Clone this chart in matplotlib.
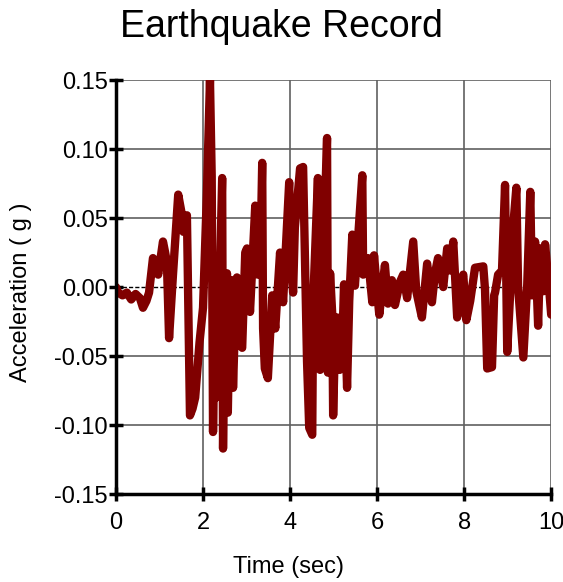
import matplotlib.pyplot as plt

plt.rcParams['font.family'] = ['Liberation Sans', 'DejaVu Sans']
plt.rcParams['axes.unicode_minus'] = False

# time (sec) and acceleration (g)
time = [0.00, 0.05, 0.15, 0.25, 0.35, 0.45, 0.55, 0.62, 0.70, 0.76,
        0.85, 0.92, 0.97, 1.08, 1.13, 1.17, 1.22, 1.31, 1.43, 1.50,
        1.55, 1.63, 1.70, 1.76, 1.82, 1.92, 2.00, 2.09, 2.16, 2.20,
        2.23, 2.27, 2.30, 2.32, 2.36, 2.44, 2.46, 2.50, 2.53, 2.55,
        2.57, 2.61, 2.63, 2.66, 2.69, 2.74, 2.78, 2.85, 2.90, 2.97,
        3.01, 3.08, 3.20, 3.26, 3.33, 3.36, 3.38, 3.42, 3.49, 3.59,
        3.66, 3.77, 3.84, 3.98, 4.02, 4.07, 4.11, 4.23, 4.30, 4.39,
        4.44, 4.51, 4.53, 4.64, 4.69, 4.74, 4.85, 4.87, 4.92, 4.97,
        4.99, 5.04, 5.08, 5.14, 5.22, 5.24, 5.31, 5.36, 5.43, 5.49,
        5.66, 5.68, 5.79, 5.89, 5.93, 6.00, 6.05, 6.18, 6.25, 6.34,
        6.41, 6.53, 6.60, 6.69, 6.83, 6.90, 7.03, 7.15, 7.26, 7.33,
        7.40, 7.52, 7.61, 7.68, 7.75, 7.84, 7.93, 7.98, 8.05, 8.14,
        8.25, 8.44, 8.48, 8.53, 8.64, 8.69, 8.71, 8.78, 8.87, 8.94,
        8.99, 9.06, 9.13, 9.20, 9.24, 9.36, 9.45, 9.52, 9.56, 9.63,
        9.70, 9.75, 9.82, 9.86, 9.95, 10.00]
accel = [0.000, -0.004, -0.006, -0.004, -0.009, -0.005, -0.008, -0.015, -0.010, -0.004,
         0.021, 0.018, 0.009, 0.033, 0.025, 0.018, -0.037, 0.009, 0.067, 0.055,
         0.040, 0.052, -0.093, -0.088, -0.080, -0.040, -0.015, 0.069, 0.150, 0.080,
         -0.105, -0.020, -0.080, 0.010, -0.030, 0.079, -0.117, -0.010, -0.085, 0.010,
         -0.091, -0.020, -0.050, 0.005, -0.073, -0.020, 0.007, -0.042, -0.044, 0.025,
         0.028, -0.018, 0.059, 0.009, 0.040, 0.090, -0.030, -0.059, -0.066, -0.006,
         -0.030, 0.025, -0.011, 0.076, 0.020, -0.004, 0.043, 0.086, 0.087, -0.054,
         -0.102, -0.107, -0.012, 0.079, -0.060, -0.004, 0.108, -0.062, 0.010, -0.020,
         -0.093, -0.030, -0.022, -0.060, -0.020, 0.002, -0.073, -0.010, 0.038, 0.001,
         0.081, 0.009, 0.021, -0.011, 0.023, -0.003, -0.020, 0.016, -0.012, 0.005,
         -0.013, 0.004, 0.009, -0.008, 0.033, -0.003, -0.022, 0.017, -0.011, 0.010,
         0.021, 0.000, 0.028, 0.012, 0.033, -0.022, 0.004, 0.009, -0.024, -0.010,
         0.014, 0.015, -0.002, -0.059, -0.058, -0.006, -0.004, 0.009, 0.012, 0.074,
         -0.047, -0.003, 0.045, 0.072, 0.000, -0.051, 0.002, 0.069, -0.006, 0.033,
         -0.028, 0.028, -0.003, 0.031, 0.000, -0.020]

xticks = [0, 2, 4, 6, 8, 10]
yticks = [-0.15, -0.10, -0.05, 0.00, 0.05, 0.10, 0.15]

fig = plt.figure(figsize=(5.63, 5.82), dpi=100)
ax = fig.add_axes([0.206, 0.151, 0.773, 0.7115])

for xv in xticks[1:]:
    ax.axvline(xv, color='#606060', lw=1.2, zorder=1)
for yv in yticks[1:]:
    if yv == 0:
        ax.axhline(yv, color='black', lw=1.0, ls=(0, (3, 1.5)), zorder=1)
    else:
        ax.axhline(yv, color='#606060', lw=1.2, zorder=1)

ax.plot(time, accel, color='#800000', lw=6, solid_joinstyle='round',
        solid_capstyle='round', zorder=2)

ax.set_xlim(0, 10)
ax.set_ylim(-0.15, 0.15)
ax.set_xticks(xticks)
ax.set_yticks(yticks)
ax.set_yticklabels([f"{v:.2f}" for v in yticks])
ax.tick_params(direction='inout', length=10, width=2.5, labelsize=17)
ax.tick_params(axis='y', pad=1)
ax.tick_params(axis='x', pad=8)

for s in ['top', 'right']:
    ax.spines[s].set_visible(False)
for s in ['left', 'bottom']:
    ax.spines[s].set_linewidth(2.5)

fig.text(0.512, 0.026, "Time (sec)", fontsize=17, ha='center', va='center')
fig.text(0.037, 0.497, "Acceleration ( g )", fontsize=17, ha='center',
         va='center', rotation=90)
fig.suptitle("Earthquake Record", fontsize=27, x=0.5, y=0.985)

fig.savefig("out.png", dpi=100)
